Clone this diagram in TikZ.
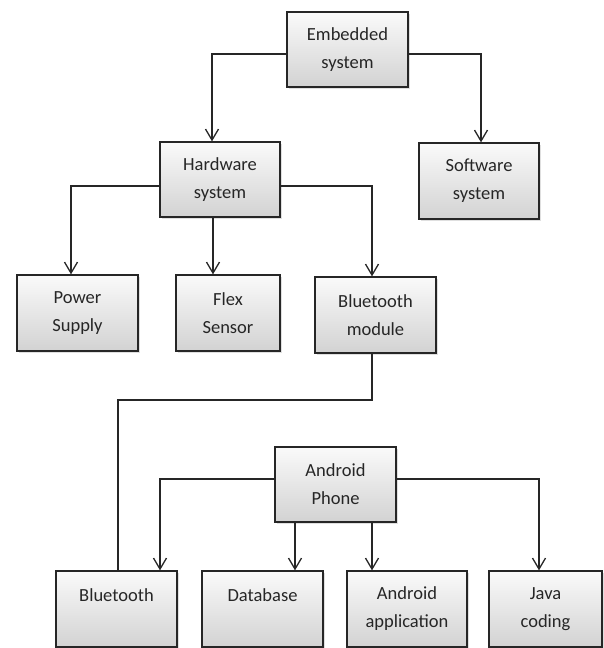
\documentclass[tikz,border=0pt]{standalone}
\usepackage{fontspec}
\setmainfont{Carlito}
\usetikzlibrary{arrows.meta,shadows}
\begin{document}
\begin{tikzpicture}[x=1pt,y=-1pt,
  box/.style={draw=black!85,line width=1.3pt,top color=gray!4,bottom color=gray!35,
    drop shadow={shadow xshift=1.5pt,shadow yshift=-1.5pt,opacity=0.25},
    minimum height=75pt,inner sep=0pt,align=center,text=black!85,
    font=\fontsize{18.5}{28}\selectfont},
  conn/.style={draw=black!85,line width=1.3pt},
  arr/.style={conn,-{Straight Barb[length=11pt,width=13pt,line width=1.3pt]}}]
\useasboundingbox (0,0) rectangle (604,648);
\node[box,minimum width=121pt] (emb) at (347.5,49.5) {Embedded\\system};
\node[box,minimum width=120pt] (hw) at (220,179.5) {Hardware\\system};
\node[box,minimum width=120pt,minimum height=76pt] (sw) at (479,181) {Software\\system};
\node[box,minimum width=121pt,minimum height=76pt] (ps) at (77.5,313) {Power\\Supply};
\node[box,minimum width=104pt,minimum height=76pt] (flex) at (228,313) {Flex\\Sensor};
\node[box,minimum width=121pt,minimum height=76pt] (btm) at (375.5,315) {Bluetooth\\module};
\node[box,minimum width=121pt] (phone) at (335.5,484.5) {Android\\Phone};
\node[box,minimum width=121pt,minimum height=76pt] (bt) at (116.5,609) {Bluetooth\\\mbox{}};
\node[box,minimum width=121pt,minimum height=76pt] (db) at (262.5,609) {Database\\\mbox{}};
\node[box,minimum width=120pt,minimum height=76pt] (app) at (407,609) {Android\\application};
\node[box,minimum width=113pt,minimum height=76pt] (java) at (545.5,609) {Java\\coding};
\coordinate (bend) at (118,400);
% connectors
\draw[arr] ([yshift=-4.5pt]emb.west) -| ([xshift=-8pt]hw.north);
\draw[arr] ([yshift=-4.5pt]emb.east) -| ([xshift=2pt]sw.north);
\draw[arr] ([yshift=-6.5pt]hw.west) -| ([xshift=-6.5pt]ps.north);
\draw[arr] ([xshift=-7pt]hw.south) -- ([xshift=-15pt]flex.north);
\draw[arr] ([yshift=-6.5pt]hw.east) -| ([xshift=-3.5pt]btm.north);
\draw[conn] ([xshift=-3.5pt]btm.south) |- (bend) -- ([xshift=1.5pt]bt.north);
\draw[arr] ([yshift=5.5pt]phone.west) -| ([xshift=43.5pt]bt.north);
\draw[arr] ([xshift=-40.5pt]phone.south) -- ([xshift=32.5pt]db.north);
\draw[arr] ([xshift=36.5pt]phone.south) -- ([xshift=-35pt]app.north);
\draw[arr] ([yshift=5.5pt]phone.east) -| ([xshift=-6.5pt]java.north);
\end{tikzpicture}
\end{document}
